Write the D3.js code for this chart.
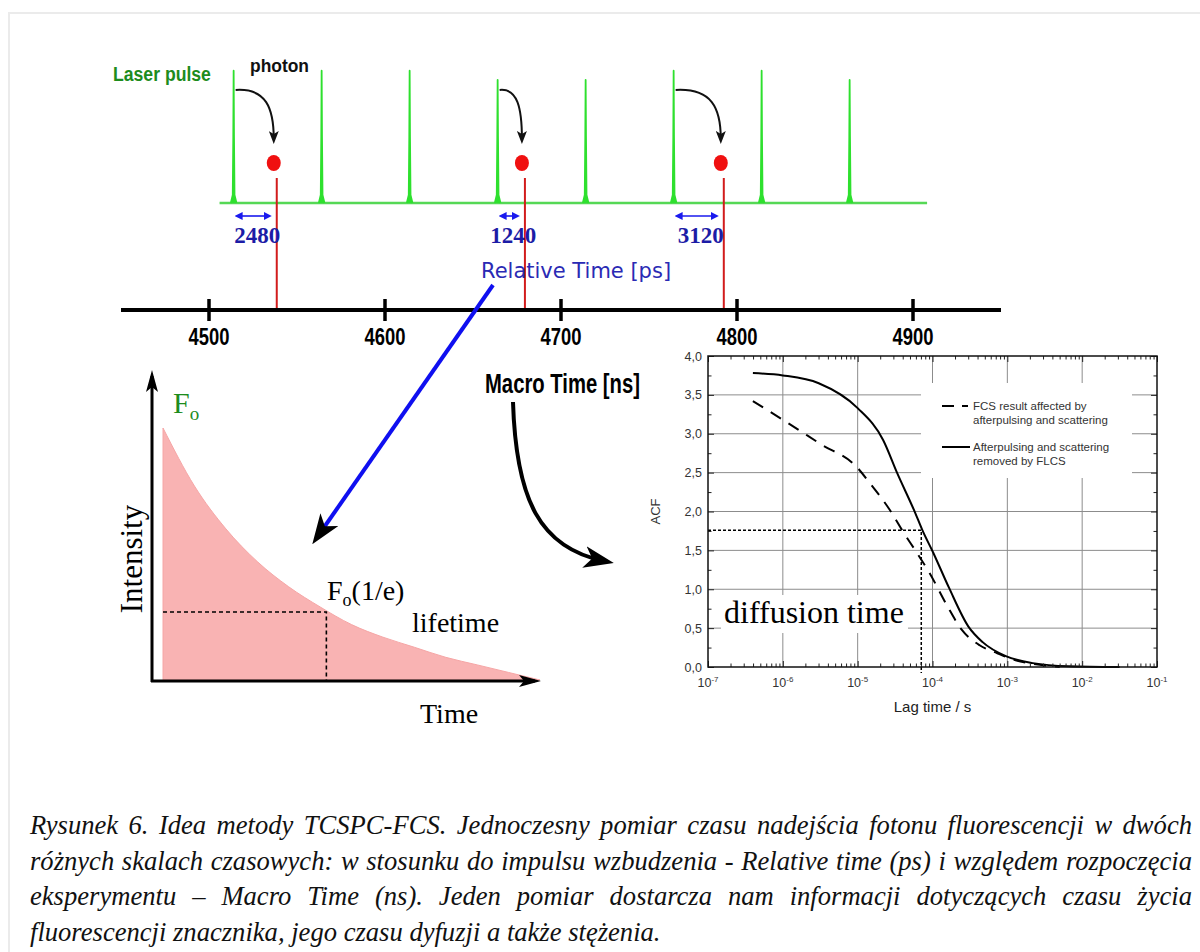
<!DOCTYPE html>
<html>
<head>
<meta charset="utf-8">
<script src="https://cdn.jsdelivr.net/npm/d3@7"></script>
<style>
  body { margin: 0; background: #fff; }
  svg { display: block; }
</style>
</head>
<body>
<div id="fig"></div>
<script>
const width = 1200;
const height = 952;

// laser pulses on the macro time axis (ns) and their relative heights
const pulseTimes = [4514, 4564, 4614, 4664, 4714, 4764, 4814, 4864];
const pulseHeights = [1, 1, 1, 0.93, 0.93, 1, 1, 0.93];

// detected photons: macro time (ns), pulse that excited them, relative time (ps)
const photonTimes = [4538.5, 4679.5, 4792.5];
const photonPulses = [4514, 4664, 4764];
const relativeTimes = ["2480", "1240", "3120"];

const macroTicks = [4500, 4600, 4700, 4800, 4900];

// fluorescence decay, arbitrary units
const decayTime = [0, 1, 2, 3, 4, 5, 6, 7, 8, 9, 10, 11, 12];
const decayIntensity = [1.00, 0.77, 0.60, 0.47, 0.37, 0.29, 0.22, 0.17, 0.13, 0.09, 0.06, 0.03, 0.0];
const lifetimeTime = 5.2;
const lifetimeLevel = 0.27;

// autocorrelation curves, lag time given as log10(s)
const flcsLogLag = [-6.4, -6.0, -5.52, -5.0, -4.66, -4.47, -4.23, -4.14, -3.99, -3.78, -3.52, -3.33, -3.02, -2.66, -2.18, -1.5];
const flcsAcf    = [3.78, 3.75, 3.65, 3.33, 2.92, 2.49, 1.98, 1.77, 1.47, 1.02, 0.52, 0.32, 0.14, 0.05, 0.01, 0.0];
const fcsLogLag  = [-6.4, -6.0, -5.5, -5.0, -4.85, -4.57, -4.38, -4.23, -4.04, -3.80, -3.61, -3.37, -3.14, -2.90, -2.66, -2.3];
const fcsAcf     = [3.42, 3.18, 2.87, 2.56, 2.38, 2.02, 1.72, 1.50, 1.21, 0.78, 0.48, 0.28, 0.18, 0.09, 0.04, 0.0];
const diffusionLogLag = -4.15;
const diffusionAcf = 1.76;

const acfTicks = [0, 0.5, 1, 1.5, 2, 2.5, 3, 3.5, 4];
const lagDecades = [-7, -6, -5, -4, -3, -2, -1];

const legendLabels = [
  ["FCS result affected by", "afterpulsing and scattering"],
  ["Afterpulsing and scattering", "removed by FLCS"]
];

const captionLines = [
  "Rysunek 6. Idea metody TCSPC-FCS. Jednoczesny pomiar czasu nadejścia fotonu fluorescencji w dwóch",
  "różnych skalach czasowych: w stosunku do impulsu wzbudzenia - Relative time (ps) i względem rozpoczęcia",
  "eksperymentu – Macro Time (ns). Jeden pomiar dostarcza nam informacji dotyczących czasu życia",
  "fluorescencji znacznika, jego czasu dyfuzji a także stężenia."
];

const sans = "'Liberation Sans', Arial, sans-serif";
const serif = "'Liberation Serif', 'Times New Roman', serif";

const svg = d3.select("#fig").append("svg")
    .attr("width", width)
    .attr("height", height);

// squeeze a bold label horizontally (the original uses a narrow font)
function condense(sel, x, y, targetWidth, anchorMiddle) {
  sel.each(function(d) {
    const node = d3.select(this);
    const w = this.getComputedTextLength();
    const px = typeof x === "function" ? x(d) : x;
    node.attr("text-anchor", anchorMiddle ? "middle" : "start")
        .attr("transform", "translate(" + px + "," + y + ") scale(" + (targetWidth / w) + ",1)");
  });
}

// arrow heads
const defs = svg.append("defs");
function addMarker(id, d, box, color) {
  defs.append("marker")
    .attr("id", id)
    .attr("viewBox", box.join(" "))
    .attr("refX", 0).attr("refY", 0)
    .attr("markerWidth", box[2]).attr("markerHeight", box[3])
    .attr("markerUnits", "userSpaceOnUse")
    .attr("orient", "auto-start-reverse")
    .append("path").attr("d", d).attr("fill", color);
}
addMarker("headSmall", "M5,0 L-8,-5 L-5,0 L-8,5Z", [-8, -5, 13, 10], "#111");
addMarker("headBlue", "M3,0 L-5,-4 L-5,4Z", [-5, -4, 8, 8], "#1a1aee");
addMarker("headBig", "M10,0 L-20,-11 L-12,0 L-20,11Z", [-20, -11, 30, 22], "#000");
addMarker("headAxis", "M6,0 L-16,-6 L-11,0 L-16,6Z", [-16, -6, 22, 12], "#000");

// faint page frame
svg.append("path")
    .attr("d", "M9," + height + " V13 H" + width)
    .attr("fill", "none")
    .attr("stroke", "#ebebeb")
    .attr("stroke-width", 2);

// ---------------- top: laser pulses and macro time axis ----------------
const xMacro = d3.scaleLinear().domain([4450, 4950]).range([121, 1001]);
const yPulse = d3.scaleLinear().domain([0, 1]).range([203, 70.7]);

const pulses = pulseTimes.map((t, i) => ({t: t, h: pulseHeights[i]}));
const photons = photonTimes.map((t, i) => ({t: t, pulse: photonPulses[i], label: relativeTimes[i]}));

const pulseLine = d3.line().x(d => xMacro(d[0])).y(d => yPulse(d[1]));

svg.append("line")
    .attr("x1", xMacro(d3.min(pulseTimes) - 8))
    .attr("x2", xMacro(d3.max(pulseTimes) + 44))
    .attr("y1", yPulse(0)).attr("y2", yPulse(0))
    .attr("stroke", "#55d855")
    .attr("stroke-width", 2.5);

svg.selectAll(".pulse")
  .data(pulses)
  .join("path")
    .attr("class", "pulse")
    .attr("d", d => pulseLine([[d.t - 1.6, 0], [d.t - 0.5, 0.06], [d.t - 0.2, 0.5], [d.t, d.h],
                               [d.t + 0.2, 0.5], [d.t + 0.5, 0.06], [d.t + 1.6, 0]]))
    .attr("fill", "#2ee02e")
    .attr("stroke", "#2ee02e")
    .attr("stroke-width", 1.8)
    .attr("stroke-linejoin", "round");

svg.append("text")
    .attr("font-family", sans).attr("font-weight", "bold").attr("font-size", 21)
    .attr("fill", "#1d8c1d")
    .text("Laser pulse")
    .call(condense, 113, 81, 98);

svg.append("text")
    .attr("font-family", sans).attr("font-weight", "bold").attr("font-size", 19)
    .attr("fill", "#111")
    .text("photon")
    .call(condense, 250, 72, 59);

// red photon markers down to the macro axis
const axisY = 310;
svg.selectAll(".photonLine")
  .data(photons)
  .join("line")
    .attr("class", "photonLine")
    .attr("x1", d => xMacro(d.t)).attr("x2", d => xMacro(d.t))
    .attr("y1", 178).attr("y2", axisY)
    .attr("stroke", "#d21c1c")
    .attr("stroke-width", 2);

svg.selectAll(".photonDot")
  .data(photons)
  .join("ellipse")
    .attr("class", "photonDot")
    .attr("cx", d => xMacro(d.t) - 3)
    .attr("cy", 163)
    .attr("rx", 7).attr("ry", 8)
    .attr("fill", "#f01010");

// curved arrows pulse -> photon
svg.selectAll(".photonArrow")
  .data(photons)
  .join("path")
    .attr("class", "photonArrow")
    .attr("d", d => {
      const x0 = xMacro(d.pulse) + 2, y0 = 90, x1 = xMacro(d.t) - 3, y1 = 139;
      return "M" + x0 + "," + y0 + " C" + (x0 + (x1 - x0) * 0.8) + "," + (y0 - 2) + " " + x1 + "," + (y0 + 18) + " " + x1 + "," + y1;
    })
    .attr("fill", "none")
    .attr("stroke", "#111")
    .attr("stroke-width", 2)
    .attr("marker-end", "url(#headSmall)");

// relative time double arrows
svg.selectAll(".relArrow")
  .data(photons)
  .join("line")
    .attr("class", "relArrow")
    .attr("x1", d => xMacro(d.pulse) + 4)
    .attr("x2", d => xMacro(d.t) - 8)
    .attr("y1", 216).attr("y2", 216)
    .attr("stroke", "#1a1aee")
    .attr("stroke-width", 1.6)
    .attr("marker-start", "url(#headBlue)")
    .attr("marker-end", "url(#headBlue)");

svg.selectAll(".relLabel")
  .data(photons)
  .join("text")
    .attr("class", "relLabel")
    .attr("x", d => (xMacro(d.pulse) + xMacro(d.t)) / 2 + 2)
    .attr("y", 243)
    .attr("text-anchor", "middle")
    .attr("font-family", serif).attr("font-weight", "bold").attr("font-size", 23)
    .attr("fill", "#1c1ca6")
    .text(d => d.label);

svg.append("text")
    .attr("x", 481).attr("y", 278)
    .attr("font-family", "'DejaVu Sans', Verdana, sans-serif").attr("font-size", 21)
    .attr("fill", "#2a2ab4")
    .text("Relative Time [ps]");

// macro time axis
svg.append("line")
    .attr("x1", xMacro.range()[0]).attr("x2", xMacro.range()[1])
    .attr("y1", axisY).attr("y2", axisY)
    .attr("stroke", "#000").attr("stroke-width", 4);

svg.selectAll(".macroTick")
  .data(macroTicks)
  .join("line")
    .attr("class", "macroTick")
    .attr("x1", d => xMacro(d)).attr("x2", d => xMacro(d))
    .attr("y1", axisY - 11).attr("y2", axisY + 11)
    .attr("stroke", "#000").attr("stroke-width", 3.5);

svg.selectAll(".macroLabel")
  .data(macroTicks)
  .join("text")
    .attr("class", "macroLabel")
    .attr("font-family", sans).attr("font-weight", "bold").attr("font-size", 23)
    .text(d => d)
    .call(condense, d => xMacro(d), axisY + 35, 41, true);

svg.append("text")
    .attr("font-family", sans).attr("font-weight", "bold").attr("font-size", 27)
    .text("Macro Time [ns]")
    .call(condense, 485, 393, 155);

// ---------------- bottom left: fluorescence decay ----------------
const xDecay = d3.scaleLinear().domain([0, 12]).range([163, 540]);
const yDecay = d3.scaleLinear().domain([0, 1]).range([680, 428]);
const decay = decayTime.map((t, i) => [t, decayIntensity[i]]);

svg.append("path")
    .datum(decay)
    .attr("d", d3.area()
        .x(d => xDecay(d[0]))
        .y0(yDecay(0))
        .y1(d => yDecay(d[1]))
        .curve(d3.curveMonotoneX))
    .attr("fill", "#f9b3b3")
    .attr("stroke", "#f6a6a6")
    .attr("stroke-width", 1);

svg.append("path")
    .attr("d", "M" + xDecay(0) + "," + yDecay(lifetimeLevel) +
               " H" + xDecay(lifetimeTime) + " V" + yDecay(0))
    .attr("fill", "none")
    .attr("stroke", "#000")
    .attr("stroke-width", 1.6)
    .attr("stroke-dasharray", "4,3");

// axes with arrow heads
svg.append("path")
    .attr("d", "M152," + (yDecay(0) + 2) + " V376")
    .attr("stroke", "#000").attr("stroke-width", 3)
    .attr("marker-end", "url(#headAxis)");
svg.append("path")
    .attr("d", "M151," + (yDecay(0) + 1) + " H535")
    .attr("stroke", "#000").attr("stroke-width", 3)
    .attr("marker-end", "url(#headAxis)");

const f0 = svg.append("text")
    .attr("x", 173).attr("y", 413)
    .attr("font-family", serif).attr("font-size", 30)
    .attr("fill", "#1d8c1d");
f0.append("tspan").text("F");
f0.append("tspan").attr("dy", 7).attr("font-size", 19).text("o");

svg.append("text")
    .attr("transform", "translate(142,559) rotate(-90)")
    .attr("text-anchor", "middle")
    .attr("font-family", serif).attr("font-size", 31)
    .text("Intensity");

const fe = svg.append("text")
    .attr("x", 327).attr("y", 600)
    .attr("font-family", serif).attr("font-size", 28);
fe.append("tspan").text("F");
fe.append("tspan").attr("dy", 6).attr("font-size", 18).text("o");
fe.append("tspan").attr("dy", -6).text("(1/e)");

svg.append("text")
    .attr("x", 412).attr("y", 632)
    .attr("font-family", serif).attr("font-size", 28)
    .text("lifetime");

svg.append("text")
    .attr("x", 420).attr("y", 723)
    .attr("font-family", serif).attr("font-size", 28)
    .text("Time");

// blue arrow: relative time -> decay
svg.append("line")
    .attr("x1", 493).attr("y1", 285)
    .attr("x2", 318).attr("y2", 536)
    .attr("stroke", "#0f0ff0").attr("stroke-width", 4)
    .attr("marker-end", "url(#headBig)");

// black arrow: macro time -> ACF
svg.append("path")
    .attr("d", "M513,402 C516,500 540,548 604,561")
    .attr("fill", "none")
    .attr("stroke", "#000").attr("stroke-width", 4)
    .attr("marker-end", "url(#headBig)");

// ---------------- bottom right: autocorrelation ----------------
const xAcf = d3.scaleLog().domain([1e-7, 1e-1]).range([708, 1157]);
const yAcf = d3.scaleLinear().domain([0, 4]).range([667, 356]);
const acf = svg.append("g").attr("font-family", sans);

acf.selectAll(".vgrid")
  .data(lagDecades.slice(1, -1))
  .join("line")
    .attr("class", "vgrid")
    .attr("x1", d => xAcf(Math.pow(10, d))).attr("x2", d => xAcf(Math.pow(10, d)))
    .attr("y1", yAcf(4)).attr("y2", yAcf(0))
    .attr("stroke", "#8c8c8c").attr("stroke-width", 1);

acf.selectAll(".hgrid")
  .data(acfTicks.slice(1, -1))
  .join("line")
    .attr("class", "hgrid")
    .attr("x1", xAcf.range()[0]).attr("x2", xAcf.range()[1])
    .attr("y1", d => yAcf(d)).attr("y2", d => yAcf(d))
    .attr("stroke", "#8c8c8c").attr("stroke-width", 1);

// legend box hides the grid
acf.append("rect")
    .attr("x", 921).attr("y", 383).attr("width", 211).attr("height", 95)
    .attr("fill", "#fff");

// "diffusion time" label box
acf.append("rect")
    .attr("x", 721).attr("y", 595).attr("width", 187).attr("height", 38)
    .attr("fill", "#fff");
acf.append("text")
    .attr("x", 724).attr("y", 623)
    .attr("font-family", serif).attr("font-size", 32)
    .text("diffusion time");

// diffusion time read-off
acf.append("path")
    .attr("d", "M" + xAcf.range()[0] + "," + yAcf(diffusionAcf) +
               " H" + xAcf(Math.pow(10, diffusionLogLag)) + " V" + (yAcf(0) + 6))
    .attr("fill", "none")
    .attr("stroke", "#000").attr("stroke-width", 1.5)
    .attr("stroke-dasharray", "3,2");

const acfLine = d3.line()
    .x(d => xAcf(Math.pow(10, d[0])))
    .y(d => yAcf(d[1]))
    .curve(d3.curveMonotoneX);

acf.append("path")
    .datum(fcsLogLag.map((l, i) => [l, fcsAcf[i]]))
    .attr("d", acfLine)
    .attr("fill", "none")
    .attr("stroke", "#000").attr("stroke-width", 2)
    .attr("stroke-dasharray", "12,9");

acf.append("path")
    .datum(flcsLogLag.map((l, i) => [l, flcsAcf[i]]))
    .attr("d", acfLine)
    .attr("fill", "none")
    .attr("stroke", "#000").attr("stroke-width", 2);

// axes: major and minor ticks on all four sides
const majorLag = lagDecades.map(e => Math.pow(10, e));
const minorLag = [];
lagDecades.slice(0, -1).forEach(e => { for (let k = 2; k < 10; k++) minorLag.push(k * Math.pow(10, e)); });
const minorAcf = acfTicks.slice(0, -1).map(v => v + 0.25);

function styleAxis(g) {
  g.select(".domain").remove();
  g.selectAll(".tick line").attr("stroke", "#222");
}

acf.append("g").attr("transform", "translate(0," + yAcf(0) + ")")
    .call(d3.axisBottom(xAcf).tickValues(majorLag).tickSize(-6).tickFormat(""))
    .call(styleAxis);
acf.append("g").attr("transform", "translate(0," + yAcf(0) + ")")
    .call(d3.axisBottom(xAcf).tickValues(minorLag).tickSize(-3.5).tickFormat(""))
    .call(styleAxis);
acf.append("g").attr("transform", "translate(0," + yAcf(4) + ")")
    .call(d3.axisTop(xAcf).tickValues(majorLag).tickSize(-6).tickFormat(""))
    .call(styleAxis);
acf.append("g").attr("transform", "translate(0," + yAcf(4) + ")")
    .call(d3.axisTop(xAcf).tickValues(minorLag).tickSize(-3.5).tickFormat(""))
    .call(styleAxis);

const yAxisG = acf.append("g").attr("transform", "translate(" + xAcf.range()[0] + ",0)")
    .call(d3.axisLeft(yAcf).tickValues(acfTicks).tickSize(-6).tickPadding(6)
        .tickFormat(d => d.toFixed(1).replace(".", ",")))
    .call(styleAxis);
yAxisG.selectAll("text")
    .attr("font-family", sans).attr("font-size", 12.5).attr("fill", "#333");
acf.append("g").attr("transform", "translate(" + xAcf.range()[0] + ",0)")
    .call(d3.axisLeft(yAcf).tickValues(minorAcf).tickSize(-3.5).tickFormat(""))
    .call(styleAxis);
acf.append("g").attr("transform", "translate(" + xAcf.range()[1] + ",0)")
    .call(d3.axisRight(yAcf).tickValues(acfTicks).tickSize(-6).tickFormat(""))
    .call(styleAxis);
acf.append("g").attr("transform", "translate(" + xAcf.range()[1] + ",0)")
    .call(d3.axisRight(yAcf).tickValues(minorAcf).tickSize(-3.5).tickFormat(""))
    .call(styleAxis);

// x tick labels as powers of ten
const xLab = acf.selectAll(".xlab")
  .data(lagDecades)
  .join("text")
    .attr("class", "xlab")
    .attr("x", d => xAcf(Math.pow(10, d)))
    .attr("y", yAcf(0) + 20)
    .attr("text-anchor", "middle")
    .attr("font-size", 12.5)
    .attr("fill", "#333");
xLab.append("tspan").text("10");
xLab.append("tspan").attr("dy", -5).attr("font-size", 8).text(d => d);

acf.append("rect")
    .attr("x", xAcf.range()[0]).attr("y", yAcf(4))
    .attr("width", xAcf.range()[1] - xAcf.range()[0])
    .attr("height", yAcf(0) - yAcf(4))
    .attr("fill", "none")
    .attr("stroke", "#111").attr("stroke-width", 1.5);

acf.append("text")
    .attr("transform", "translate(660," + ((yAcf(0) + yAcf(4)) / 2) + ") rotate(-90)")
    .attr("text-anchor", "middle")
    .attr("font-size", 13).attr("fill", "#333")
    .text("ACF");

acf.append("text")
    .attr("x", (xAcf.range()[0] + xAcf.range()[1]) / 2)
    .attr("y", 712)
    .attr("text-anchor", "middle")
    .attr("font-size", 15).attr("fill", "#222")
    .text("Lag time / s");

// legend
const legend = acf.append("g").attr("transform", "translate(942,406)");
legend.append("line")
    .attr("x1", 0).attr("x2", 26).attr("y1", 0).attr("y2", 0)
    .attr("stroke", "#000").attr("stroke-width", 2)
    .attr("stroke-dasharray", "12,8");
legend.append("line")
    .attr("x1", 0).attr("x2", 28).attr("y1", 41).attr("y2", 41)
    .attr("stroke", "#000").attr("stroke-width", 2);
legendLabels.forEach((lines, i) => {
  lines.forEach((s, j) => {
    legend.append("text")
        .attr("x", 31)
        .attr("y", 4 + i * 41 + j * 14)
        .attr("font-size", 11.5).attr("fill", "#333")
        .text(s);
  });
});

// ---------------- caption ----------------
const capLeft = 30, capRight = 1192;
captionLines.forEach((line, i) => {
  const t = svg.append("text")
      .attr("x", capLeft)
      .attr("y", 834 + i * 35.5)
      .attr("font-family", serif)
      .attr("font-style", "italic")
      .attr("font-size", 26.6)
      .attr("fill", "#111")
      .text(line);
  if (i < captionLines.length - 1) {
    const natural = t.node().getComputedTextLength();
    const gaps = line.split(" ").length - 1;
    t.style("word-spacing", ((capRight - capLeft - natural) / gaps) + "px");
  }
});
</script>
</body>
</html>
